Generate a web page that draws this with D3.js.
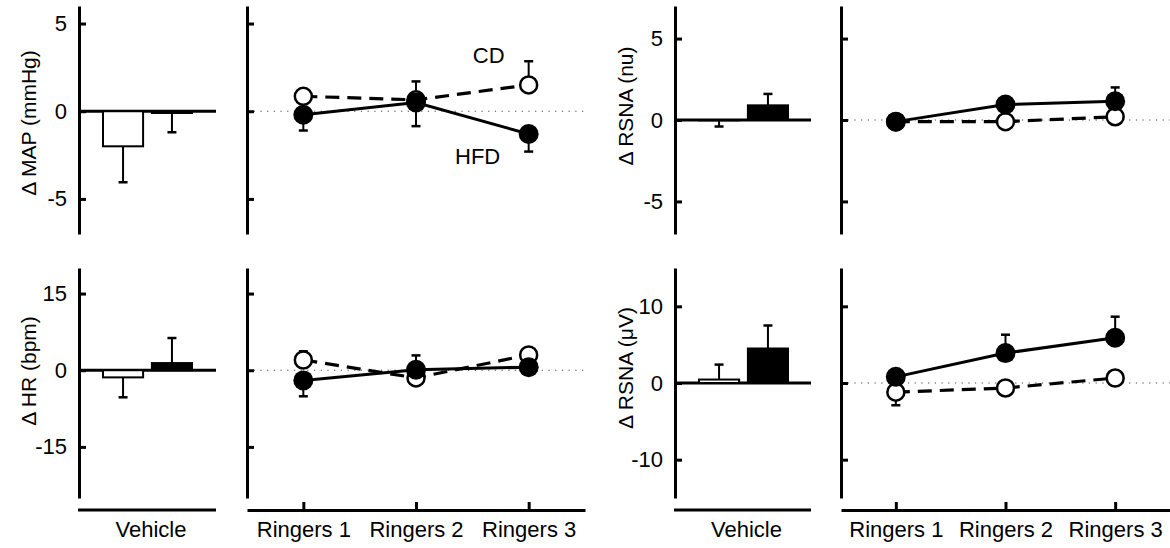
<!DOCTYPE html>
<html>
<head>
<meta charset="utf-8">
<script src="https://cdn.jsdelivr.net/npm/d3@7"></script>
<style>
  body { margin: 0; background: #fff; }
  svg { display: block; font-family: "Liberation Sans", Arial, sans-serif; }
</style>
</head>
<body>
<svg class="chart" width="1170" height="548"></svg>
<script>
// groups / categories
const groups = ["CD", "HFD"];
const stages = ["Ringers 1", "Ringers 2", "Ringers 3"];
const vehicle = ["Vehicle"];

// MAP (mmHg)
const mapTicks = [-5, 0, 5];
const mapVehicle = [-2.0, -0.1];
const mapVehicleErr = [-2.05, -1.1];
const mapCD = [0.85, 0.65, 1.5];
const mapCDErr = [0.4, 1.05, 1.35];
const mapHFD = [-0.2, 0.5, -1.3];
const mapHFDErr = [-0.9, -1.35, -1.0];

// HR (bpm)
const hrTicks = [-15, 0, 15];
const hrVehicle = [-1.4, 1.4];
const hrVehicleErr = [-3.9, 4.9];
const hrCD = [2.0, -1.5, 3.0];
const hrCDErr = [1.7, -1.0, 0.8];
const hrHFD = [-2.0, 0.1, 0.6];
const hrHFDErr = [-3.1, 2.8, -0.8];

// RSNA (nu)
const nuTicks = [-5, 0, 5];
const nuVehicle = [-0.02, 0.9];
const nuVehicleErr = [-0.38, 0.7];
const nuCD = [-0.1, -0.1, 0.2];
const nuCDErr = [-0.3, -0.3, 0.3];
const nuHFD = [-0.1, 0.95, 1.15];
const nuHFDErr = [-0.3, 0.4, 0.85];

// RSNA (uV)
const uvTicks = [-10, 0, 10];
const uvVehicle = [0.45, 4.5];
const uvVehicleErr = [1.95, 3.0];
const uvCD = [-1.2, -0.65, 0.65];
const uvCDErr = [-1.7, -0.5, 0.5];
const uvHFD = [0.8, 3.9, 5.9];
const uvHFDErr = [0.5, 2.4, 2.75];

const svg = d3.select(".chart");

// layout
const topRow = [234, 6];
const bottomRow = [498, 268];
const xAxisY = 510;
const leftCol = { barAxis: 79, barEnd: 216, lineAxis: 247, lineEnd: 585, labelX: 28 };
const rightCol = { barAxis: 675, barEnd: 811, lineAxis: 841, lineEnd: 1170, labelX: 625 };

const panels = [
  { label: "\u0394 MAP (mmHg)", labelY: 123, domain: [-7, 6], ticks: mapTicks,
    bars: mapVehicle, barErr: mapVehicleErr, cd: mapCD, cdErr: mapCDErr, hfd: mapHFD, hfdErr: mapHFDErr,
    row: topRow, col: leftCol, bottom: false, notes: true },
  { label: "\u0394 HR (bpm)", labelY: 371, domain: [-25, 20], ticks: hrTicks,
    bars: hrVehicle, barErr: hrVehicleErr, cd: hrCD, cdErr: hrCDErr, hfd: hrHFD, hfdErr: hrHFDErr,
    row: bottomRow, col: leftCol, bottom: true },
  { label: "\u0394 RSNA (nu)", labelY: 106, domain: [-7, 7], ticks: nuTicks,
    bars: nuVehicle, barErr: nuVehicleErr, cd: nuCD, cdErr: nuCDErr, hfd: nuHFD, hfdErr: nuHFDErr,
    row: topRow, col: rightCol, bottom: false },
  { label: "\u0394 RSNA (\u03bcV)", labelY: 368, domain: [-15, 15], ticks: uvTicks,
    bars: uvVehicle, barErr: uvVehicleErr, cd: uvCD, cdErr: uvCDErr, hfd: uvHFD, hfdErr: uvHFDErr,
    row: bottomRow, col: rightCol, bottom: true }
];

function styleAxis(g) {
  g.select(".domain").attr("stroke", "#000").attr("stroke-width", 3);
  g.selectAll(".tick line").attr("stroke", "#000").attr("stroke-width", 3);
  g.selectAll(".tick text").attr("fill", "#000");
}

function errBar(g, x, y0, y1) {
  g.append("line").attr("x1", x).attr("x2", x).attr("y1", y0).attr("y2", y1)
    .attr("stroke", "#000").attr("stroke-width", 2);
  g.append("line").attr("x1", x - 4.5).attr("x2", x + 4.5).attr("y1", y1).attr("y2", y1)
    .attr("stroke", "#000").attr("stroke-width", 2.5);
}

panels.forEach((p) => {
  const c = p.col;
  const y = d3.scaleLinear().domain(p.domain).range(p.row);

  // ---- vehicle bar panel
  const gb = svg.append("g");
  const xb = d3.scaleBand().domain(groups).range([c.barAxis + 24, c.barAxis + 113]).paddingInner(0.18);

  gb.append("line")
    .attr("x1", c.barAxis).attr("x2", c.barEnd)
    .attr("y1", y(0)).attr("y2", y(0))
    .attr("stroke", "#000").attr("stroke-width", 3);

  groups.forEach((grp, i) => {
    const v = p.bars[i];
    const cx = xb(grp) + xb.bandwidth() / 2;
    errBar(gb, cx, y(v), y(v + p.barErr[i]));
    gb.append("rect")
      .attr("x", xb(grp))
      .attr("y", Math.min(y(v), y(0)))
      .attr("width", xb.bandwidth())
      .attr("height", Math.abs(y(v) - y(0)))
      .attr("fill", grp === "CD" ? "#fff" : "#000")
      .attr("stroke", "#000")
      .attr("stroke-width", 2);
  });

  gb.append("g")
    .attr("transform", `translate(${c.barAxis},0)`)
    .call(d3.axisLeft(y).tickValues(p.ticks).tickSizeInner(-7).tickSizeOuter(0).tickPadding(12).tickFormat((d) => String(d)))
    .attr("font-size", 22)
    .attr("font-family", null)
    .call(styleAxis);

  gb.append("text")
    .attr("transform", `translate(${c.labelX},${p.labelY}) rotate(-90)`)
    .attr("text-anchor", "middle")
    .attr("dominant-baseline", "central")
    .attr("font-size", 21)
    .text(p.label);

  if (p.bottom) {
    const xv = d3.scaleBand().domain(vehicle).range([c.barAxis - 1, c.barEnd + 8]);
    gb.append("g")
      .attr("transform", `translate(0,${xAxisY})`)
      .call(d3.axisBottom(xv).tickSize(0).tickPadding(11))
      .attr("font-size", 22)
      .attr("font-family", null)
      .call((g) => g.select(".domain").remove());
    gb.append("line")
      .attr("x1", c.barAxis - 1).attr("x2", c.barEnd)
      .attr("y1", xAxisY).attr("y2", xAxisY)
      .attr("stroke", "#000").attr("stroke-width", 3);
  }

  // ---- ringers line panel
  const gl = svg.append("g");
  const xp = d3.scalePoint().domain(stages).range([c.lineAxis, c.lineEnd]).padding(0.5);

  gl.append("line")
    .attr("x1", c.lineAxis).attr("x2", c.lineEnd)
    .attr("y1", y(0)).attr("y2", y(0))
    .attr("stroke", "#444").attr("stroke-width", 1)
    .attr("stroke-dasharray", "1.2,5.5");

  gl.append("g")
    .attr("transform", `translate(${c.lineAxis},0)`)
    .call(d3.axisLeft(y).tickValues(p.ticks).tickSizeInner(-7).tickSizeOuter(0).tickFormat(""))
    .call(styleAxis);

  if (p.bottom) {
    gl.append("g")
      .attr("transform", `translate(0,${xAxisY})`)
      .call(d3.axisBottom(xp).tickSizeInner(-8).tickSizeOuter(0).tickPadding(11))
      .attr("font-size", 22)
      .attr("font-family", null)
      .call(styleAxis);
  }

  const line = d3.line().x((d, i) => xp(stages[i])).y((d) => y(d));

  gl.append("path").datum(p.cd)
    .attr("d", line).attr("fill", "none")
    .attr("stroke", "#000").attr("stroke-width", 3.2)
    .attr("stroke-dasharray", "14,8");
  gl.append("path").datum(p.hfd)
    .attr("d", line).attr("fill", "none")
    .attr("stroke", "#000").attr("stroke-width", 3);

  stages.forEach((s, i) => {
    errBar(gl, xp(s), y(p.cd[i]), y(p.cd[i] + p.cdErr[i]));
    errBar(gl, xp(s), y(p.hfd[i]), y(p.hfd[i] + p.hfdErr[i]));
  });

  gl.selectAll(".cd").data(p.cd).enter().append("circle")
    .attr("class", "cd")
    .attr("cx", (d, i) => xp(stages[i])).attr("cy", (d) => y(d))
    .attr("r", 8.5).attr("fill", "#fff")
    .attr("stroke", "#000").attr("stroke-width", 2.5);
  gl.selectAll(".hfd").data(p.hfd).enter().append("circle")
    .attr("class", "hfd")
    .attr("cx", (d, i) => xp(stages[i])).attr("cy", (d) => y(d))
    .attr("r", 10).attr("fill", "#000");

  if (p.notes) {
    const last = stages.length - 1;
    gl.append("text")
      .attr("x", xp(stages[last]) - 40).attr("y", y(p.cd[last]) - 29)
      .attr("text-anchor", "middle").attr("dominant-baseline", "central")
      .attr("font-size", 22).text("CD");
    gl.append("text")
      .attr("x", xp(stages[last]) - 51).attr("y", y(p.hfd[last]) + 22)
      .attr("text-anchor", "middle").attr("dominant-baseline", "central")
      .attr("font-size", 22).text("HFD");
  }
});
</script>
</body>
</html>
